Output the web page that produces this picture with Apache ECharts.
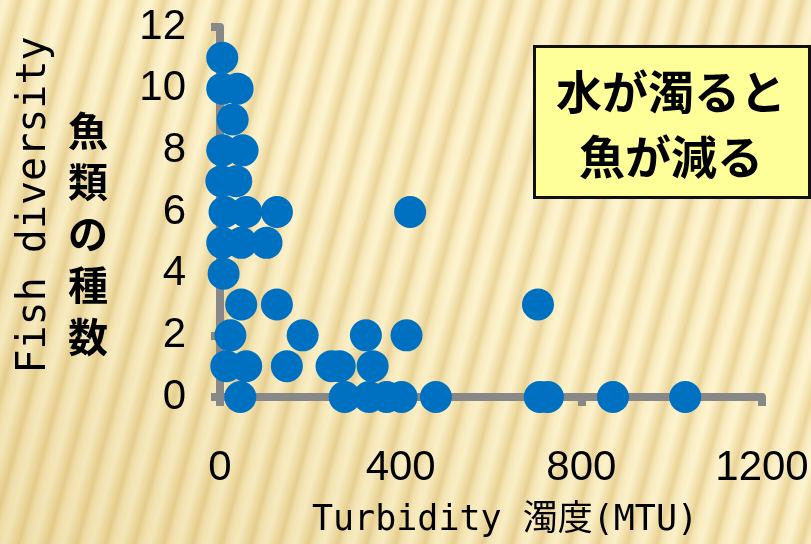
<!DOCTYPE html>
<html>
<head>
<meta charset="utf-8">
<script src="https://cdn.jsdelivr.net/npm/echarts@6/dist/echarts.min.js"></script>
<style>
html,body{margin:0;padding:0;}
#wrap{width:811px;height:544px;position:relative;overflow:hidden;
background:
 linear-gradient(to top right, rgba(190,150,50,0.18), rgba(255,255,255,0) 55%),
 repeating-linear-gradient(105deg, #FBEFC6 0px, #FDF4D0 6px, #F3E2AE 14px, #EAD49A 19px, #F6E8BA 24px, #FBEFC6 28px);}
#chart{width:811px;height:544px;}
</style>
</head>
<body>
<div id="wrap"><div id="chart"></div></div>
<script>
// Data
const turbidity = [5, 5, 39, 28, 5, 50, 3, 36, 10, 58, 126, 421, 5, 47, 103, 8, 47, 126, 704, 23, 183, 323, 413, 14, 58, 148, 247, 265, 338, 45, 276, 330, 369, 402, 478, 708, 726, 870, 1030];
const fishSpecies = [11, 10, 10, 9, 8, 8, 7, 7, 6, 6, 6, 6, 5, 5, 5, 4, 3, 3, 3, 2, 2, 2, 2, 1, 1, 1, 1, 1, 1, 0, 0, 0, 0, 0, 0, 0, 0, 0, 0];
const xTicks = [0, 400, 800, 1200];
const yTicks = [0, 2, 4, 6, 8, 10, 12];
const xName = 'Turbidity 濁度(MTU)';
const yName = 'Fish diversity';
const yNameJa = '魚類の種数';
const noteLines = ['水が濁ると', '魚が減る'];

const points = turbidity.map((v, i) => [v, fishSpecies[i]]);
const digitFont = '"Liberation Sans Narrow", "Liberation Sans", sans-serif';
const monoFont = '"DejaVu Sans Mono", "Noto Sans CJK JP", monospace';
const axisGray = '#888888';

const chart = echarts.init(document.getElementById('chart'), null, {renderer: 'canvas'});
chart.setOption({
  backgroundColor: 'transparent',
  animation: false,
  grid: {left: 220, right: 49, top: 27, bottom: 147, containLabel: false, outerBoundsMode: 'none'},
  xAxis: {
    type: 'value',
    min: xTicks[0], max: xTicks[xTicks.length - 1], interval: xTicks[1] - xTicks[0],
    splitLine: {show: false},
    axisLine: {show: true, lineStyle: {color: axisGray, width: 8}},
    axisTick: {show: true, length: 9, lineStyle: {color: axisGray, width: 8}},
    axisLabel: {color: '#000', fontSize: 42, fontFamily: digitFont, margin: 50,
      formatter: v => String(v)},
    name: xName, nameLocation: 'middle', nameGap: 106,
    nameTextStyle: {color: '#000', fontSize: 35, fontFamily: monoFont, padding: [0, 0, 0, 28]}
  },
  yAxis: {
    type: 'value',
    min: yTicks[0], max: yTicks[yTicks.length - 1], interval: yTicks[1] - yTicks[0],
    splitLine: {show: false},
    axisLine: {show: true, lineStyle: {color: axisGray, width: 8}},
    axisTick: {show: true, length: 9, lineStyle: {color: axisGray, width: 8}},
    axisLabel: {color: '#000', fontSize: 42, fontFamily: digitFont, margin: 34,
      formatter: v => String(v)},
    name: yName, nameLocation: 'middle', nameRotate: 90, nameGap: 165,
    nameTextStyle: {color: '#000', fontSize: 40, fontFamily: monoFont, padding: [0, 0, 0, 14]}
  },
  graphic: [
    {
      type: 'rect', left: 533, top: 45, z: 10,
      shape: {width: 275, height: 151},
      style: {fill: '#FFFF99', stroke: '#111', lineWidth: 3}
    },
    {
      type: 'text', x: 671, y: 92, z: 11,
      style: {text: noteLines[0], fill: '#000', font: 'bold 46px "Noto Sans CJK JP"', textAlign: 'center', textVerticalAlign: 'middle'}
    },
    {
      type: 'text', x: 671, y: 157, z: 11,
      style: {text: noteLines[1], fill: '#000', font: 'bold 46px "Noto Sans CJK JP"', textAlign: 'center', textVerticalAlign: 'middle'}
    },
    {
      type: 'text', x: 88, y: 105, z: 11,
      style: {text: yNameJa.split('').join('\n'), fill: '#000', font: 'bold 40px "Noto Sans CJK JP"', lineHeight: 51.5, textAlign: 'center', textVerticalAlign: 'top'}
    }
  ],
  series: [{
    type: 'scatter',
    data: points,
    symbol: 'circle',
    symbolSize: 32,
    itemStyle: {color: '#0070C0', opacity: 1},
    z: 5
  }]
});
</script>
</body>
</html>
